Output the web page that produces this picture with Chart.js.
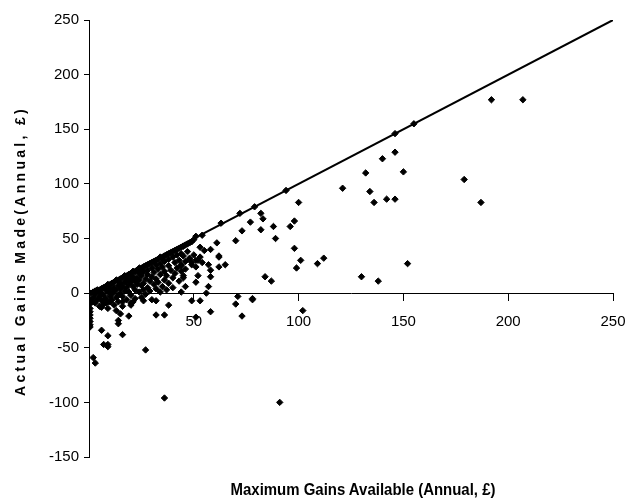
<!DOCTYPE html>
<html>
<head>
<meta charset="utf-8">
<script src="https://cdn.jsdelivr.net/npm/chart.js@4.4.0/dist/chart.umd.min.js"></script>
<style>
    body { margin: 0; background: #fff; }
    #wrap { position: relative; width: 627px; height: 503px; }
    #yTitle {
        position: absolute; left: 20px; top: 251px;
        transform: translate(-50%, -50%) rotate(-90deg);
        font: bold 14px 'Liberation Sans', Arial, sans-serif;
        letter-spacing: 3.3px; white-space: nowrap;
    }
    #xTitle {
        position: absolute; left: 363px; top: 490px;
        transform: translate(-50%, -50%) scaleX(0.88);
        font: bold 17px 'Liberation Sans', Arial, sans-serif;
        white-space: nowrap;
    }
</style>
</head>
<body>
<div id="wrap">
    <canvas id="gainsChart" width="627" height="503"></canvas>
    <div id="yTitle">Actual Gains Made(Annual, £)</div>
    <div id="xTitle">Maximum Gains Available (Annual, £)</div>
</div>
<script>
// diagonal: gains made = gains available
const lineX = [0, 250];
const lineY = [0, 250];

// points away from the dense cluster
const outerX = [192, 207, 146, 155, 146, 140, 132, 150, 121, 134, 136, 142, 146, 179, 187,
    94, 100, 79, 77, 82, 83, 82, 88, 96, 98, 89, 98, 101, 99, 109, 112, 84, 87, 130, 138, 152, 78, 102,
    63, 72, 54, 51, 45, 70, 73, 61, 58, 55, 53, 62, 62, 65, 62, 57, 58, 58, 57, 56, 52, 51, 52, 51, 49, 48, 46, 53, 54, 51, 44, 44, 45, 46, 44,
    49, 53, 58, 70, 71, 73, 78, 51, 91,
    6, 9, 16, 7, 9, 9, 2, 3, 27, 36,
    32, 36, 38, 19, 14, 14, 15, 13, 6, 8, 2, 20, 21, 26, 32, 10, 16];
const outerY = [177, 177, 146, 155, 129, 123, 110, 111, 96, 93, 83, 86, 86, 104, 83,
    94, 83, 79, 65, 73, 68, 58, 61, 61, 66, 50, 41, 30, 23, 27, 32, 15, 11, 15, 11, 27, -5, -16,
    64, 73, 53, 52, 43, 48, 57, 46, 40, 39, 42, 34, 33, 26, 24, 26, 21, 15, 6, 0, 16, 10, 30, 30, 28, 32, 29, 33, 28, 24, 25, 20, 14, 6, 1,
    -7, -7, -17, -10, -3, -21, -6, -22, -100,
    -34, -39, -38, -47, -47, -49, -59, -64, -52, -96,
    -20, -20, -11, -21, -28, -25, -19, -16, -13, -9, -8, -11, -8, -7, -7, -8, -8];

// dense cluster near the origin
const clusterX = [0, 1, 0.5, 0.5, 0.5, 0.5, 0.5, 0.5, 0.5, 0.5, 0.5,
    2, 2, 3, 3, 3, 4, 4, 5, 5, 5, 6, 6, 6, 7, 7, 7, 8, 8, 8, 9, 9, 9, 9, 10, 10, 10,
    11, 11, 11, 12, 12, 12, 12, 13, 13, 13, 14, 14, 14, 14, 15, 15, 15, 15, 16, 16, 16, 16,
    17, 17, 17, 18, 18, 18, 18, 19, 19, 19, 20, 20, 20, 20, 20, 21, 21, 21, 22, 22, 22, 22,
    23, 23, 23, 24, 24, 24, 24, 25, 25, 25, 25, 26, 26, 26, 26, 27, 27, 27, 28, 28, 28, 28,
    29, 29, 29, 30, 30, 30, 30, 31, 31, 31, 32, 32, 32, 32, 33, 33, 33, 34, 34, 34, 34,
    35, 35, 35, 36, 36, 36, 36, 37, 37, 37, 38, 38, 38, 38, 39, 39, 40, 40, 40, 40,
    41, 41, 41, 42, 42, 42, 43, 43, 43, 44, 44, 44, 45, 45, 45, 46, 46, 47, 47, 48, 48, 49, 49, 50, 50];
const clusterY = [0, 0, -6, -10, -14, -17, -20, -23, -26, -29, -31,
    1, -4, 2, -1, -9, 3, -6, 1, -3, -12, 4, 0, -7, 5, -2, -10, 6, 3, -5, 8, 1, -8, -14, 7, 4, -3,
    9, -1, -6, 10, 5, 2, -11, 12, 3, -4, 11, 7, -2, -8, 13, 9, 4, 0, 14, 6, -3, -12,
    16, 10, 2, 15, 12, 5, -6, 17, 8, 1, 18, 13, 10, -2, -9, 20, 15, 6, 19, 11, 3, -5,
    21, 14, 8, 23, 18, 12, 1, 22, 16, 7, -4, 24, 20, 9, 3, 25, 13, -1, 26, 21, 17, 5,
    27, 11, 2, 28, 23, 15, -6, 29, 19, 8, 30, 26, 13, 4, 31, 22, 10, 33, 27, 17, 1,
    32, 24, 6, 34, 29, 20, 12, 35, 16, 3, 36, 31, 25, 9, 37, 21, 38, 33, 14, 5,
    39, 28, 18, 40, 35, 23, 41, 30, 11, 42, 36, 26, 43, 34, 16, 44, 22, 45, 38, 46, 31, 47, 26, 49, 35];

const yTicks = [-150, -100, -50, 0, 50, 100, 150, 200, 250];
const xTicks = [50, 100, 150, 200, 250];

const toPoints = (xs, ys) => xs.map((x, i) => ({ x: x, y: ys[i] }));

const tickFont = { family: "'Liberation Sans', Arial, sans-serif", size: 15 };

const ctx = document.getElementById('gainsChart').getContext('2d');
new Chart(ctx, {
    type: 'scatter',
    data: {
        datasets: [
            {
                type: 'line',
                data: toPoints(lineX, lineY),
                borderColor: '#000',
                borderWidth: 2,
                pointRadius: 0,
                fill: false,
            },
            {
                data: toPoints(outerX.concat(clusterX), outerY.concat(clusterY)),
                pointStyle: 'rectRot',
                pointRadius: 3.2,
                borderWidth: 1,
                borderColor: '#000',
                backgroundColor: '#000',
            },
        ],
    },
    options: {
        responsive: false,
        animation: false,
        layout: { padding: { top: 20, bottom: 46, right: 14, left: 0 } },
        plugins: { legend: { display: false }, tooltip: { enabled: false } },
        scales: {
            x: {
                type: 'linear',
                position: { y: 0 },
                min: 0,
                max: 250,
                afterBuildTicks: (scale) => { scale.ticks = xTicks.map((v) => ({ value: v })); },
                afterFit: (scale) => { scale.paddingLeft = 0; scale.paddingRight = 0; },
                ticks: { color: '#000', font: tickFont, padding: 13, maxRotation: 0 },
                grid: { drawOnChartArea: false, drawTicks: true, tickLength: 7, color: '#000' },
                border: { color: '#000', width: 1 },
            },
            y: {
                type: 'linear',
                min: -150,
                max: 250,
                afterBuildTicks: (scale) => { scale.ticks = yTicks.map((v) => ({ value: v })); },
                afterFit: (scale) => { scale.width = 89; scale.paddingTop = 0; scale.paddingBottom = 0; },
                ticks: { color: '#000', font: tickFont, padding: 5 },
                grid: { drawOnChartArea: false, drawTicks: true, tickLength: 5, color: '#000' },
                border: { color: '#000', width: 1 },
            },
        },
    },
});
</script>
</body>
</html>
